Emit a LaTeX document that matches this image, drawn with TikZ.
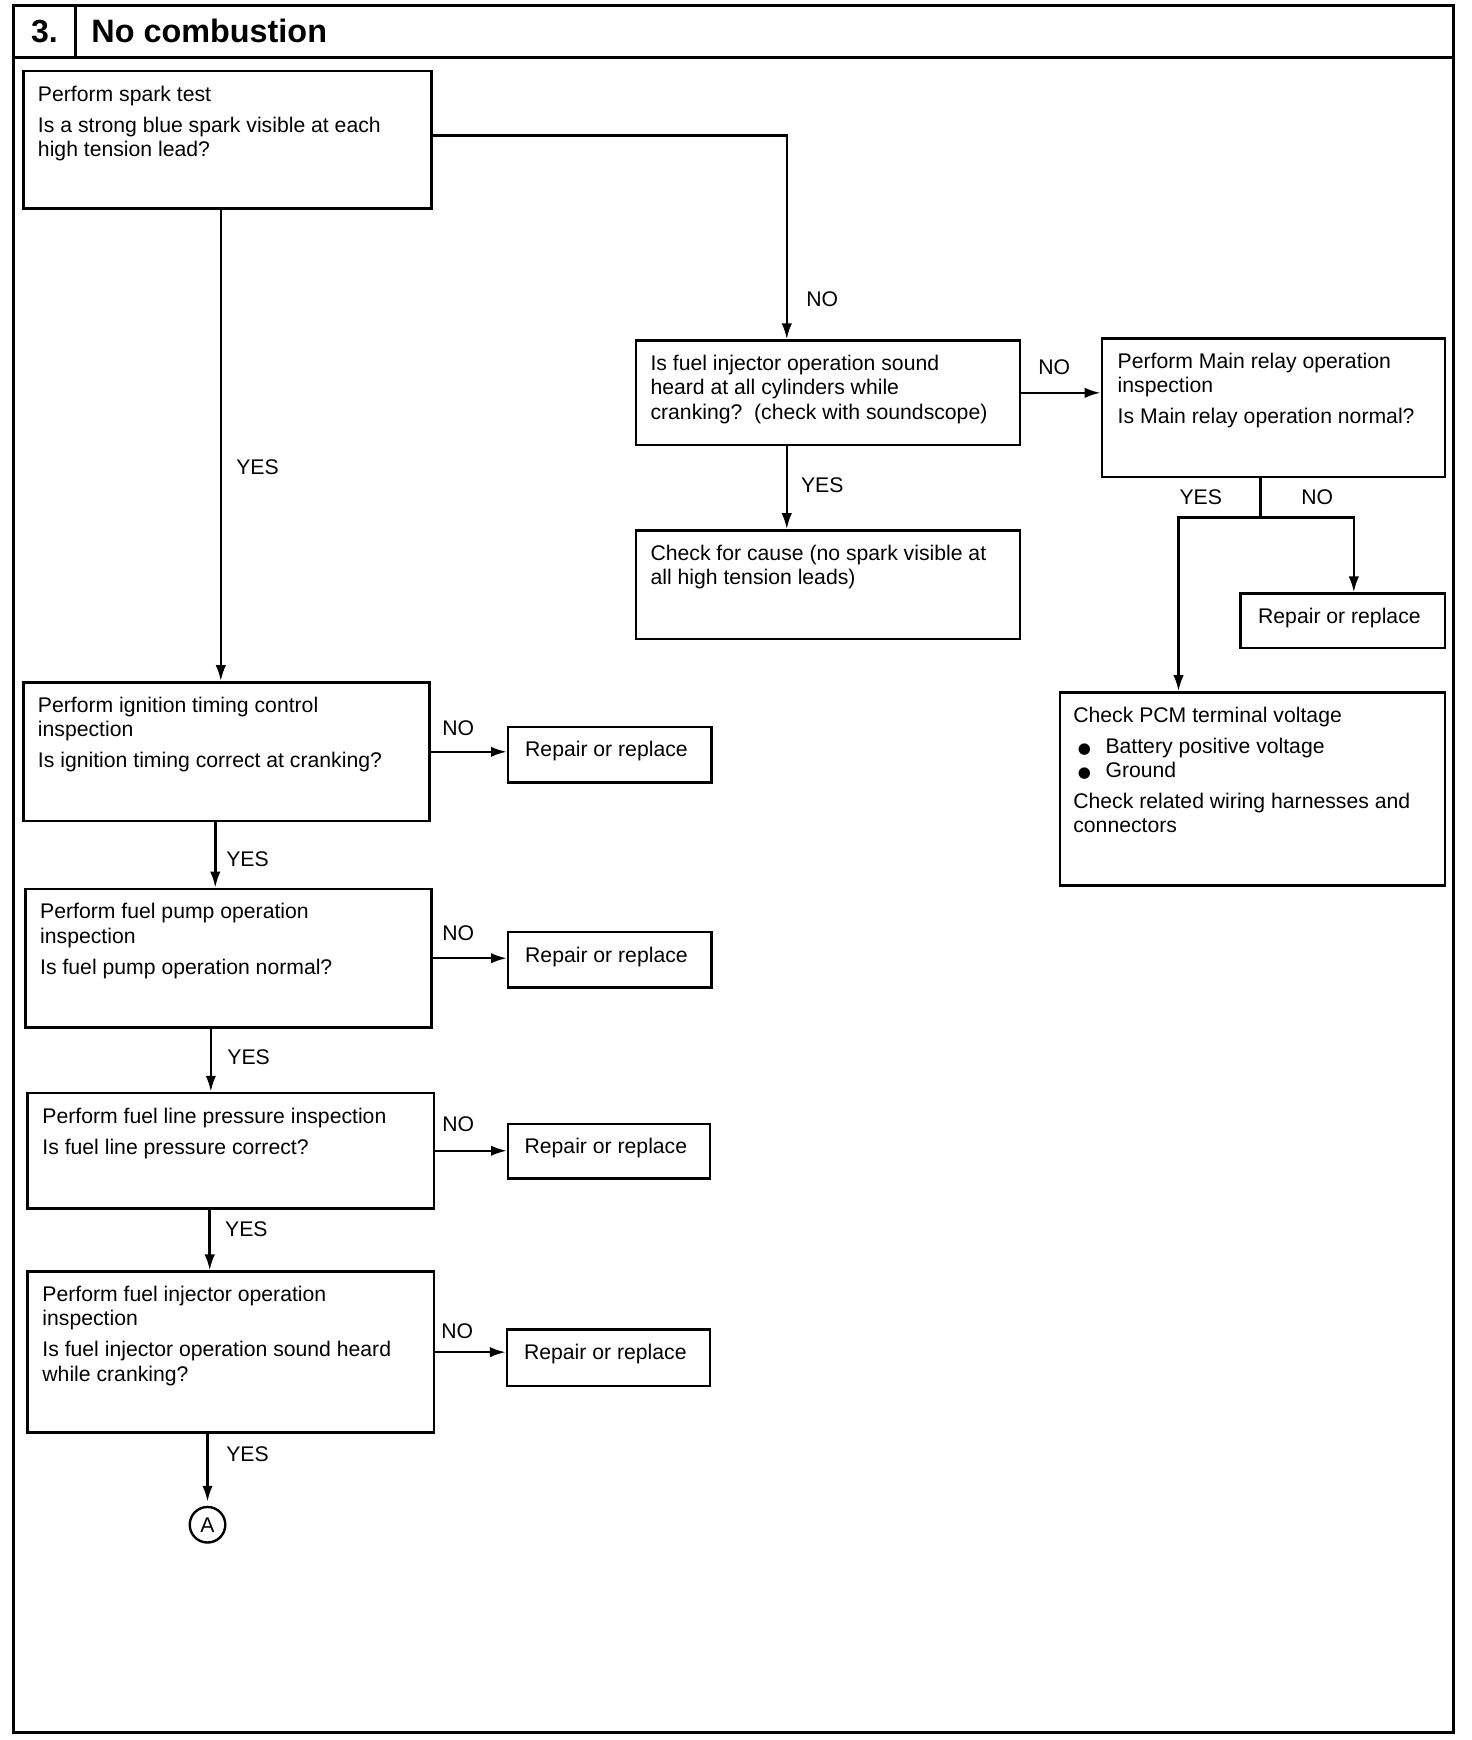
\documentclass[tikz,border=0pt]{standalone}
\usepackage{fontspec}
\setmainfont{Liberation Sans}
\newfontfamily\dejavu{DejaVu Sans}
\usetikzlibrary{arrows.meta,fit,calc}
\newcommand{\gp}{\\[3.4pt]}
\newcommand{\bul}{\hspace*{2.2pt}\makebox[13.9pt][l]{{\dejavu\fontsize{7.5}{8}\selectfont ●}}}
\begin{document}
\begin{tikzpicture}[x=0.5551pt,y=-0.5551pt,
  box/.style={draw, line width=1.25pt, inner sep=0pt},
  txt/.style={anchor=north west, inner sep=0pt, align=left, font=\fontsize{10.6}{12.1}\selectfont},
  lbl/.style={inner sep=0pt, font=\fontsize{10.6}{12.1}\selectfont},
  arr/.style={line width=1.25pt, -{Latex[length=8pt,width=5.2pt]}},
  ln/.style={line width=1.25pt}]
\useasboundingbox (0,0) rectangle (1326,1568);
% frame
\draw[line width=1.4pt] (12,5) rectangle (1310,1561);
\draw[line width=1.4pt] (12,52) -- (1310,52);
\draw[line width=1.4pt] (68,5) -- (68,52);
\node[inner sep=0pt, font=\fontsize{16}{18}\bfseries\selectfont] (num) at (40,28) {3.};
\node[inner sep=0pt, anchor=west, font=\fontsize{16.2}{18}\bfseries\selectfont] (title) at (82,28) {No combustion};
% helper coordinates
\coordinate (v1) at (199,0);
\coordinate (v2) at (709,0);
\coordinate (v3) at (194,0);
\coordinate (v4) at (190,0);
\coordinate (v5) at (189,0);
\coordinate (v6) at (187,0);
\coordinate (vm) at (1136,0);
\coordinate (vy) at (1062,0);
\coordinate (vn) at (1220,0);
% boxes
\node[box, fit={(21,64) (389,188)}] (b1) {};
\node[box, fit={(573,307) (919,401)}] (b2) {};
\node[box, fit={(573,478) (919,576)}] (cc) {};
\node[box, fit={(993,305) (1302,430)}] (mr) {};
\node[box, fit={(1118,535) (1302,584)}] (r0) {};
\node[box, fit={(955,624) (1302,798)}] (pcm) {};
\node[box, fit={(21,615) (387,740)}] (b3) {};
\node[box, fit={(458,655) (641,705)}] (r1) {};
\node[box, fit={(23,801) (389,926)}] (b4) {};
\node[box, fit={(458,840) (641,890)}] (r2) {};
\node[box, fit={(25,985) (391,1089)}] (b5) {};
\node[box, fit={(458,1013) (640,1062)}] (r3) {};
\node[box, fit={(25,1146) (391,1291)}] (b6) {};
\node[box, fit={(457,1198) (640,1249)}] (r4) {};
\node[draw, circle, line width=1.2pt, minimum size=17.8pt, inner sep=0pt, font=\fontsize{10.6}{12.1}\selectfont] (A) at (187,1374) {A};
% texts
\node[lbl] (tr0) at ($(r0.center)+(-3,-3)$) {Repair or replace};
\node[lbl] (tr1) at ($(r1.center)+(-3,-3)$) {Repair or replace};
\node[lbl] (tr2) at ($(r2.center)+(-3,-3)$) {Repair or replace};
\node[lbl] (tr3) at ($(r3.center)+(-3,-3)$) {Repair or replace};
\node[lbl] (tr4) at ($(r4.center)+(-3,-3)$) {Repair or replace};
\node[txt] (t1) at ($(b1.north west)+(14,14)$) {Perform spark test\gp Is a strong blue spark visible at each\\high tension lead?};
\node[txt] (t2) at ($(b2.north west)+(14,14)$) {Is fuel injector operation sound\\heard at all cylinders while\\cranking?\ \ (check with soundscope)};
\node[txt] (tc) at ($(cc.north west)+(14,14)$) {Check for cause (no spark visible at\\all high tension leads)};
\node[txt] (tm) at ($(mr.north west)+(15,14)$) {Perform Main relay operation\\inspection\gp Is Main relay operation normal?};
\node[txt] (tp) at ($(pcm.north west)+(13,14)$) {Check PCM terminal voltage\gp \bul Battery positive voltage\\\bul Ground\gp Check related wiring harnesses and\\connectors};
\node[txt] (t3) at ($(b3.north west)+(14,14)$) {Perform ignition timing control\\inspection\gp Is ignition timing correct at cranking?};
\node[txt] (t4) at ($(b4.north west)+(14,14)$) {Perform fuel pump operation\\inspection\gp Is fuel pump operation normal?};
\node[txt] (t5) at ($(b5.north west)+(14,14)$) {Perform fuel line pressure inspection\gp Is fuel line pressure correct?};
\node[txt] (t6) at ($(b6.north west)+(14,14)$) {Perform fuel injector operation\\inspection\gp Is fuel injector operation sound heard\\while cranking?};
% connectors
\draw[arr] ($(b1.east)+(0,-4)$) -| (b2.north -| v2);
\draw[arr] (b1.south -| v1) -- (b3.north -| v1);
\draw[arr] (b2.south -| v2) -- (cc.north -| v2);
\draw[arr] (b2.east) -- (b2.east -| mr.west);
\draw[ln] (mr.south -| vm) -- ($(mr.south -| vm)+(0,35)$) coordinate (j);
\draw[arr] (j) -| (pcm.north -| vy);
\draw[arr] (j) -| (r0.north -| vn);
\draw[arr] (b3.east) -- (b3.east -| r1.west);
\draw[arr] (b3.south -| v3) -- (b4.north -| v3);
\draw[arr] (b4.east) -- (b4.east -| r2.west);
\draw[arr] (b4.south -| v4) -- (b5.north -| v4);
\draw[arr] (b5.east) -- (b5.east -| r3.west);
\draw[arr] (b5.south -| v5) -- (b6.north -| v5);
\draw[arr] (b6.east) -- (b6.east -| r4.west);
\draw[arr, shorten >=2pt] (b6.south -| v6) -- (A.north);
% labels
\node[lbl] (l1) at (741,270) {NO};
\node[lbl] (l2) at (232,421) {YES};
\node[lbl] (l3) at (741,437) {YES};
\node[lbl] (l4) at (950,331) {NO};
\node[lbl] (l5) at (1082,448) {YES};
\node[lbl] (l6) at (1187,448) {NO};
\node[lbl] (l7) at (413,656) {NO};
\node[lbl] (l8) at (223,774) {YES};
\node[lbl] (l9) at (413,841) {NO};
\node[lbl] (l10) at (224,953) {YES};
\node[lbl] (l11) at (413,1013) {NO};
\node[lbl] (l12) at (222,1108) {YES};
\node[lbl] (l13) at (412,1200) {NO};
\node[lbl] (l14) at (223,1310) {YES};
\end{tikzpicture}
\end{document}
